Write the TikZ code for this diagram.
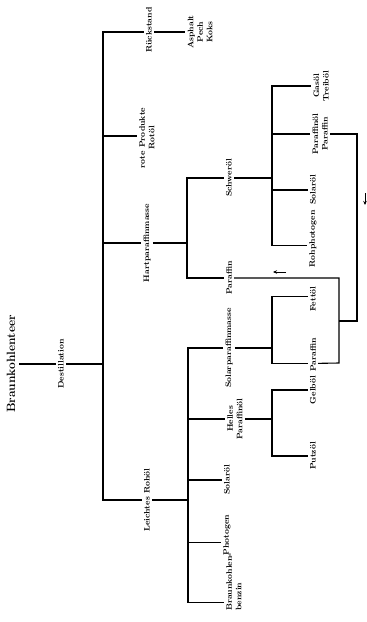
\documentclass[tikz,border=0pt]{standalone}
\usepackage{fontspec}
\usepackage{tikz}
\usetikzlibrary{arrows.meta,calc}

\begin{document}
\begin{tikzpicture}[
    x=1pt, y=-1pt,
    font=\fontsize{8}{9.5}\selectfont\bfseries,
    prod/.style={rotate=90, inner sep=2pt, align=center},
    head/.style={rotate=90, inner sep=4pt, font=\fontsize{12}{14}\selectfont\bfseries},
    tie/.style={line width=1.1pt},
    hint/.style={-{Stealth[length=4pt,width=3.5pt]}, line width=0.8pt},
]
\useasboundingbox (0,0) rectangle (367,622);

% Root
\node[head] (teer) at (11,364) {Braunkohlenteer};
\node[prod] (destill) at (61,364) {Destillation};
\draw[tie] (teer.south) -- (destill.north);

% First split
\coordinate (f1) at (103,364);
\node[prod] (rueck) at (149,30) {Rückstand};
\node[prod] (koks) at (200,32) {Asphalt\\Pech\\Koks};
\node[prod] (rot) at (147,138) {rote Produkte\\Rotöl};
\node[prod] (hart) at (147,243) {Hartparaffinmasse};
\node[prod] (leicht) at (147,500) {Leichtes Rohöl};
\draw[tie] (destill.south) -- (f1);
\draw[tie] (f1) |- (rueck.north |- koks.north);
\draw[tie] (f1) |- (rot.north |- 0,136);
\draw[tie] (f1) |- (hart.north);
\draw[tie] (f1) |- (leicht.north);
\draw[tie] (rueck.south |- koks.north) -- (koks.north);

% Hartparaffinmasse
\coordinate (f2) at (187,243);
\node[prod] (schwer) at (229,178) {Schweröl};
\node[prod] (paraf) at (229,278) {Paraffin};
\draw[tie] (hart.south) -- (f2);
\draw[tie] (f2) |- (schwer.north);
\draw[tie] (f2) |- (paraf.north);

% Schweröl
\coordinate (f3) at (272,178);
\node[prod] (gasoel) at (321,86) {Gasöl\\Treiböl};
\node[prod] (pfoel) at (320,134) {Paraffinöl\\Paraffin};
\node[prod] (solar2) at (313,190) {Solaröl};
\node[prod] (rohph) at (313,239) {Rohphotogen};
\draw[tie] (schwer.south) -- (f3);
\draw[tie] (f3) |- (gasoel.north);
\draw[tie] (f3) |- (pfoel.north);
\draw[tie] (f3) |- (solar2.north);
\draw[tie] (f3) |- ($(rohph.north west)!0.4!(rohph.north east)$);

% Leichtes Rohöl
\coordinate (f4) at (188,500);
\node[prod] (solpm) at (229,348) {Solarparaffinmasse};
\node[prod] (helles) at (235,419) {Helles\\Paraffinöl};
\node[prod] (solar1) at (227,480) {Solaröl};
\node[prod] (photo) at (227,535) {Photogen};
\node[prod, align=left, anchor=west] (benzin) at (234,613) {Braunkohlen-\\benzin};
\draw[tie] (leicht.south) -- (f4);
\draw[tie] (f4) |- (solpm.north);
\draw[tie] (f4) |- (helles.north);
\draw[tie] (f4) |- (solar1.north);
\draw[tie] (f4) |- ($(photo.north west)!0.33!(photo.north east)$);
\draw[tie] (f4) |- ($(benzin.north west)!0.17!(benzin.north east)$);

% Solarparaffinmasse
\coordinate (f5) at (272,348);
\node[prod] (fett) at (313,299) {Fettöl};
\node[prod] (paraf3) at (313,355) {Paraffin};
\draw[tie] (solpm.south) -- (f5);
\draw[tie] (f5) |- ($(fett.north west)!0.6!(fett.north east)$);
\draw[tie] (f5) |- ($(paraf3.north west)!0.28!(paraf3.north east)$);

% Helles Paraffinöl
\coordinate (f6) at (272,419);
\node[prod] (gelb) at (313,390) {Gelböl};
\node[prod] (putz) at (313,456) {Putzöl};
\draw[tie] (helles.south) -- (f6);
\draw[tie] (f6) |- (gelb.north);
\draw[tie] (f6) |- (putz.north);

% Paraffin back to Paraffin
\coordinate (r1) at (339,363);
\coordinate (r2) at (357,321);
\draw[tie] ($(paraf3.south west)!0.28!(paraf3.south east)$) -- (r1) |- (paraf.south);
\draw[tie] (pfoel.south) -| (r2) -- (r2 -| r1);

% Direction marks
\coordinate (a1) at (286,272);
\coordinate (a2) at (365,193);
\draw[hint] (a1) -- ++(-13,0);
\draw[hint] (a2) -- ++(0,12);

\end{tikzpicture}
\end{document}
